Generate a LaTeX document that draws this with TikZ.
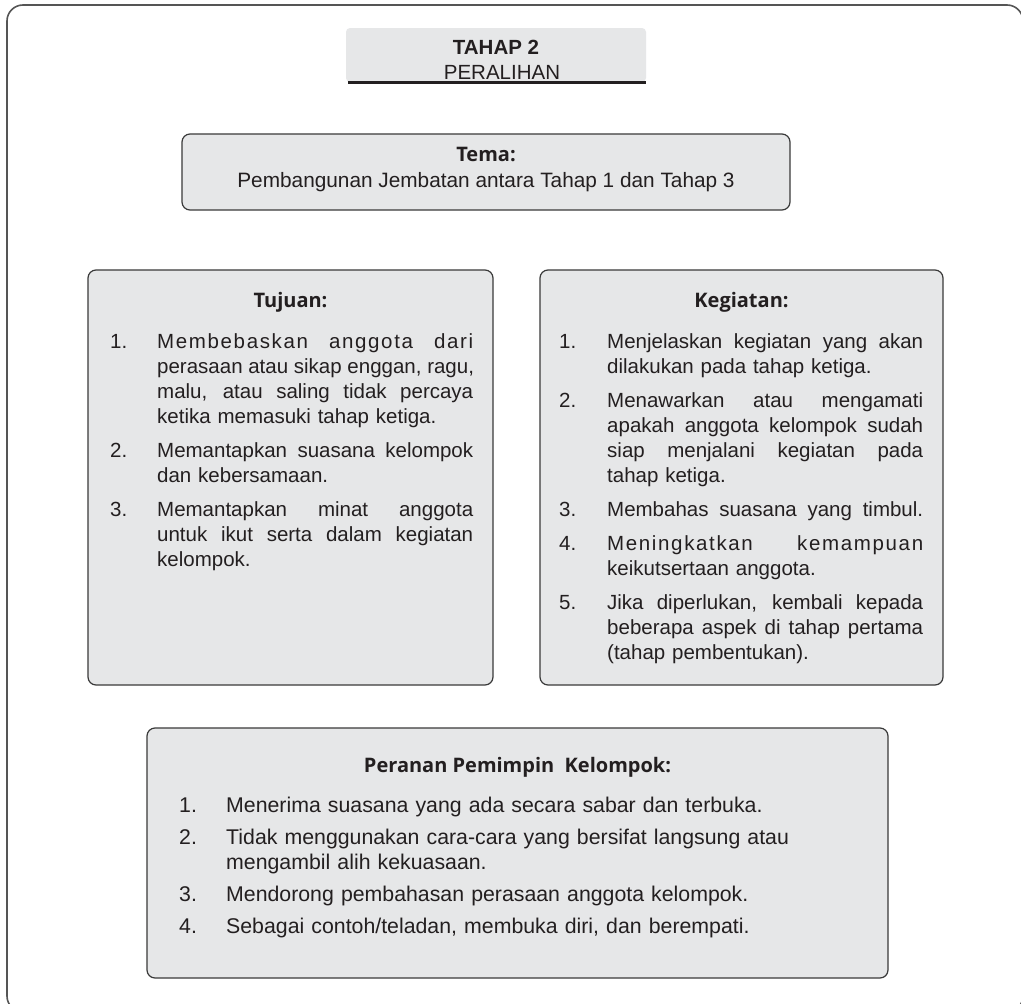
\documentclass[tikz,border=0pt]{standalone}
\usepackage{fontspec}
\setmainfont{Liberation Sans}
\newfontfamily\headfont{Open Sans}
\definecolor{boxfill}{HTML}{E6E7E8}
\definecolor{boxline}{HTML}{3A3A3A}
\definecolor{txt}{HTML}{231F20}
\definecolor{framecol}{HTML}{555555}
% justified line, ragged line, last line, list item
\newcommand\jl[1]{\hbox to 316pt{\spaceskip=\fontdimen2\font plus 1fil\relax #1}\break\ignorespaces}
\newcommand\jls[1]{\hbox to 316pt{\addfontfeature{LetterSpace=8}\spaceskip=\fontdimen2\font plus 1fil\relax #1}\break\ignorespaces}
\newcommand\rgl[1]{\hbox{#1}\hfil\break\ignorespaces}
\newcommand\lastl[1]{\hbox{#1}}
\newcommand\itm[3]{\hangindent=#1\hangafter=1\noindent\makebox[#1][l]{#2}#3\par}
\tikzset{
  panel/.style={draw=boxline, fill=boxfill, line width=1.2pt, rounded corners=8pt, inner sep=0pt},
  head/.style={anchor=base, inner sep=0pt, text=txt, font=\headfont\bfseries\fontsize{20}{24}\selectfont},
  bodytext/.style={anchor=base west, inner sep=0pt, text=txt, font=\fontsize{20.5}{25}\selectfont},
}
\begin{document}
\begin{tikzpicture}[x=1pt,y=-1pt]
\useasboundingbox (0,0) rectangle (1021,1004);
\fill[white] (0,0) rectangle (1021,1004);
% outer frame (cropped at right and bottom)
\draw[framecol, line width=1.6pt, rounded corners=16pt] (7,5) rectangle (1023,1012);

% title
\node[fill=boxfill, rounded corners=4pt, minimum width=300pt, minimum height=54pt, inner sep=0pt] (title) at (496,55) {};
\draw[txt, line width=2.6pt] ([xshift=2pt]title.south west) -- (title.south east);
\node[anchor=base, inner sep=0pt, text=txt, font=\bfseries\fontsize{20.5}{24}\selectfont] (t1) at (496,54) {TAHAP 2};
\node[anchor=base, inner sep=0pt, text=txt, font=\fontsize{20.5}{24}\selectfont] (t2) at (502,79) {PERALIHAN};

% tema
\node[panel, minimum width=608pt, minimum height=76pt] (tema) at (486,172) {};
\node[head] (temah) at (486,161) {Tema:};
\node[anchor=base, inner sep=0pt, text=txt, font=\fontsize{20.8}{25}\selectfont] (temat) at (486,187) {Pembangunan Jembatan antara Tahap 1 dan Tahap 3};

% tujuan
\node[panel, minimum width=405pt, minimum height=415pt] (tujuan) at (290.5,477.5) {};
\node[head] (tujuanh) at (290.5,307) {Tujuan:};
\node[bodytext, text width=363pt] (tujuanb) at (110,348) {\parskip=9pt\relax
\itm{47pt}{1.}{\jls{Membebaskan anggota dari}
\jl{perasaan atau sikap enggan, ragu,}
\jl{malu, atau saling tidak percaya}
\lastl{ketika memasuki tahap ketiga.}}
\itm{47pt}{2.}{\jl{Memantapkan suasana kelompok}
\lastl{dan kebersamaan.}}
\itm{47pt}{3.}{\jl{Memantapkan minat anggota}
\jl{untuk ikut serta dalam kegiatan}
\lastl{kelompok.}}};

% kegiatan
\node[panel, minimum width=403pt, minimum height=415pt] (kegiatan) at (741.5,477.5) {};
\node[head] (kegiatanh) at (741.5,307) {Kegiatan:};
\node[bodytext, text width=364pt] (kegiatanb) at (559,348) {\parskip=9pt\relax
\itm{48pt}{1.}{\jl{Menjelaskan kegiatan yang akan}
\lastl{dilakukan pada tahap ketiga.}}
\itm{48pt}{2.}{\jl{Menawarkan atau mengamati}
\jl{apakah anggota kelompok sudah}
\jl{siap menjalani kegiatan pada}
\lastl{tahap ketiga.}}
\itm{48pt}{3.}{\hbox to 316pt{\spaceskip=\fontdimen2\font plus 1fil\relax Membahas suasana yang timbul.}}
\itm{48pt}{4.}{\jls{Meningkatkan kemampuan}
\lastl{keikutsertaan anggota.}}
\itm{48pt}{5.}{\jl{Jika diperlukan, kembali kepada}
\jl{beberapa aspek di tahap pertama}
\lastl{(tahap pembentukan).}}};

% peranan pemimpin
\node[panel, minimum width=741pt, minimum height=250pt] (peranan) at (517.5,853) {};
\node[head] (perananh) at (517.5,772) {Peranan Pemimpin\ \ Kelompok:};
\node[anchor=base west, inner sep=0pt, text=txt, font=\fontsize{21.3}{25}\selectfont, text width=680pt] (perananb) at (179,812) {\parskip=7pt\relax
\itm{47pt}{1.}{\lastl{Menerima suasana yang ada secara sabar dan terbuka.}}
\itm{47pt}{2.}{\rgl{Tidak menggunakan cara-cara yang bersifat langsung atau}
\lastl{mengambil alih kekuasaan.}}
\itm{47pt}{3.}{\lastl{Mendorong pembahasan perasaan anggota kelompok.}}
\itm{47pt}{4.}{\lastl{Sebagai contoh/teladan, membuka diri, dan berempati.}}};
\end{tikzpicture}
\end{document}
